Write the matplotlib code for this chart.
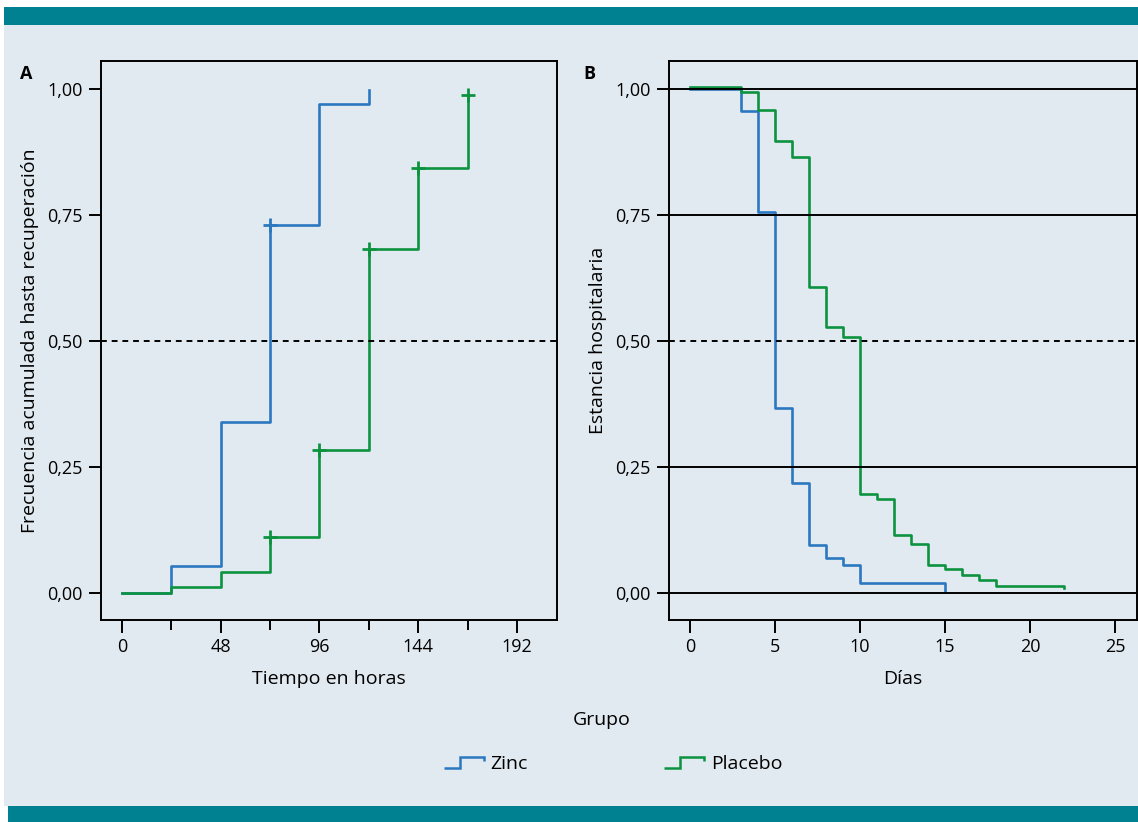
import matplotlib
matplotlib.use("Agg")
import matplotlib.pyplot as plt
from matplotlib.lines import Line2D
from matplotlib.patches import Rectangle
from matplotlib.legend_handler import HandlerBase

plt.rcParams['font.family'] = ['Open Sans', 'DejaVu Sans']
plt.rcParams['font.size'] = 13

# ---------------- data ----------------
# Panel A: cumulative frequency until recovery (hours)
hours_zinc = [0, 24, 48, 72, 96, 120]
freq_zinc = [0.0, 0.053, 0.340, 0.730, 0.971, 0.999]
hours_placebo = [0, 24, 48, 72, 96, 120, 144, 168]
freq_placebo = [0.0, 0.012, 0.041, 0.112, 0.284, 0.683, 0.844, 0.989]
censor_hours_zinc = [72]
censor_freq_zinc = [0.730]
censor_hours_placebo = [72, 96, 120, 144, 168]
censor_freq_placebo = [0.112, 0.284, 0.683, 0.844, 0.989]

# Panel B: hospital stay (days)
days_zinc = [0, 3, 4, 5, 6, 7, 8, 9, 10, 15]
stay_zinc = [1.0, 0.956, 0.756, 0.367, 0.218, 0.095, 0.069, 0.055, 0.019, 0.004]
days_placebo = [0, 3, 4, 5, 6, 7, 8, 9, 10, 11, 12, 13, 14, 15, 16, 17, 18, 22]
stay_placebo = [1.005, 0.995, 0.958, 0.897, 0.866, 0.607, 0.527, 0.507, 0.197,
                0.187, 0.115, 0.097, 0.055, 0.047, 0.036, 0.025, 0.0145, 0.009]

yticks = [0.0, 0.25, 0.5, 0.75, 1.0]
ytick_labels = ["0,00", "0,25", "0,50", "0,75", "1,00"]
xticks_a = [0, 48, 96, 144, 192]
xticks_a_minor = [24, 72, 120, 168]
xticks_b = [0, 5, 10, 15, 20, 25]
groups = ["Zinc", "Placebo"]

BLUE = "#2b78c0"
GREEN = "#0c933f"
BG = "#e2eaf1"
TEAL = "#008192"
LABEL_FS = 14
TICK_FS = 13

W, H = 1138, 822
fig = plt.figure(figsize=(W / 100, H / 100), dpi=100)
fig.patch.set_facecolor("white")

# background panel and teal bands
fig.add_artist(Rectangle((4 / W, 16 / H), 1 - 4 / W, (806 - 25) / H,
                         transform=fig.transFigure, facecolor=BG, edgecolor="none", zorder=-10))
fig.add_artist(Rectangle((4 / W, 1 - 25 / H), 1 - 4 / W, 18 / H,
                         transform=fig.transFigure, facecolor=TEAL, edgecolor="none", zorder=-10))
fig.add_artist(Rectangle((8 / W, 0), 1 - 8 / W, 16 / H,
                         transform=fig.transFigure, facecolor=TEAL, edgecolor="none", zorder=-10))


def px_axes(left, top, right, bottom):
    return fig.add_axes([left / W, 1 - bottom / H, (right - left) / W, (bottom - top) / H])


lw = 1.9
axA = px_axes(101, 61, 557, 620)
axB = px_axes(669, 61, 1137, 620)

for ax in (axA, axB):
    ax.set_facecolor(BG)
    for s in ax.spines.values():
        s.set_linewidth(1.4)
        s.set_color("black")
    ax.set_ylim(-0.0536, 1.0556)
    ax.set_yticks(yticks)
    ax.set_yticklabels(ytick_labels)
    ax.tick_params(axis="both", which="major", length=9, width=1.4, color="black",
                   labelsize=TICK_FS, pad=4)
    ax.tick_params(axis="both", which="minor", length=7, width=1.4, color="black")

# ---- Panel A ----
axA.step(hours_zinc, freq_zinc, where="post", color=BLUE, lw=lw, zorder=3)
axA.step(hours_placebo, freq_placebo, where="post", color=GREEN, lw=lw, zorder=3)
axA.plot(censor_hours_zinc, censor_freq_zinc, ls="none", marker="+", ms=10, mew=2,
         color=BLUE, zorder=4)
axA.plot(censor_hours_placebo, censor_freq_placebo, ls="none", marker="+", ms=10, mew=2,
         color=GREEN, zorder=4)
axA.axhline(0.5, color="black", lw=1.4, ls=(0, (3, 2.5)), zorder=5)
axA.set_xlim(-10.2, 211.5)
axA.set_xticks(xticks_a)
axA.set_xticks(xticks_a_minor, minor=True)
axA.set_xticklabels([str(v) for v in xticks_a])
axA.set_xlabel("Tiempo en horas", fontsize=LABEL_FS, labelpad=10)
axA.set_ylabel("Frecuencia acumulada hasta recuperación", fontsize=LABEL_FS, labelpad=6)

# ---- Panel B ----
axB.step(days_zinc, stay_zinc, where="post", color=BLUE, lw=lw, zorder=3)
axB.step(days_placebo, stay_placebo, where="post", color=GREEN, lw=lw, zorder=3)
for yv in yticks:
    if yv == 0.5:
        axB.axhline(yv, color="black", lw=1.4, ls=(0, (3, 2.5)), zorder=5)
    else:
        axB.axhline(yv, color="black", lw=1.4, zorder=5)
axB.set_xlim(-1.24, 26.3)
axB.set_xticks(xticks_b)
axB.set_xticklabels([str(v) for v in xticks_b])
axB.set_xlabel("Días", fontsize=LABEL_FS, labelpad=10)
axB.set_ylabel("Estancia hospitalaria", fontsize=LABEL_FS, labelpad=6)

# panel letters
fig.text(20 / W, 1 - 79 / H, "A", fontsize=13, fontweight="bold", ha="left", va="baseline")
fig.text(583 / W, 1 - 79 / H, "B", fontsize=13, fontweight="bold", ha="left", va="baseline")


# ---- legend ----
class StepHandler(HandlerBase):
    def create_artists(self, legend, orig_handle, xdescent, ydescent, width, height,
                       fontsize, trans):
        x0 = -xdescent
        y0 = -ydescent
        lo = y0 + height * 0.05
        hi = y0 + height * 0.9
        xs = [x0, x0 + 0.4 * width, x0 + 0.4 * width, x0 + width, x0 + width]
        ys = [lo, lo, hi, hi, hi - (hi - lo) * 0.4]
        line = Line2D(xs, ys, color=orig_handle.get_color(), lw=1.8,
                      solid_joinstyle="miter", solid_capstyle="butt")
        line.set_transform(trans)
        return [line]


handles = [Line2D([], [], color=BLUE), Line2D([], [], color=GREEN)]
fig.text(602 / W, 1 - 720 / H, "Grupo", fontsize=LABEL_FS, ha="center", va="center")
leg = fig.legend(handles, groups, ncol=2, frameon=False, loc="center",
                 bbox_to_anchor=(613 / W, 1 - 764 / H), fontsize=LABEL_FS,
                 handler_map={Line2D: StepHandler()}, handlelength=2.05,
                 handletextpad=0.35, columnspacing=7.0)

fig.savefig("out.png", dpi=100, facecolor=fig.get_facecolor())
